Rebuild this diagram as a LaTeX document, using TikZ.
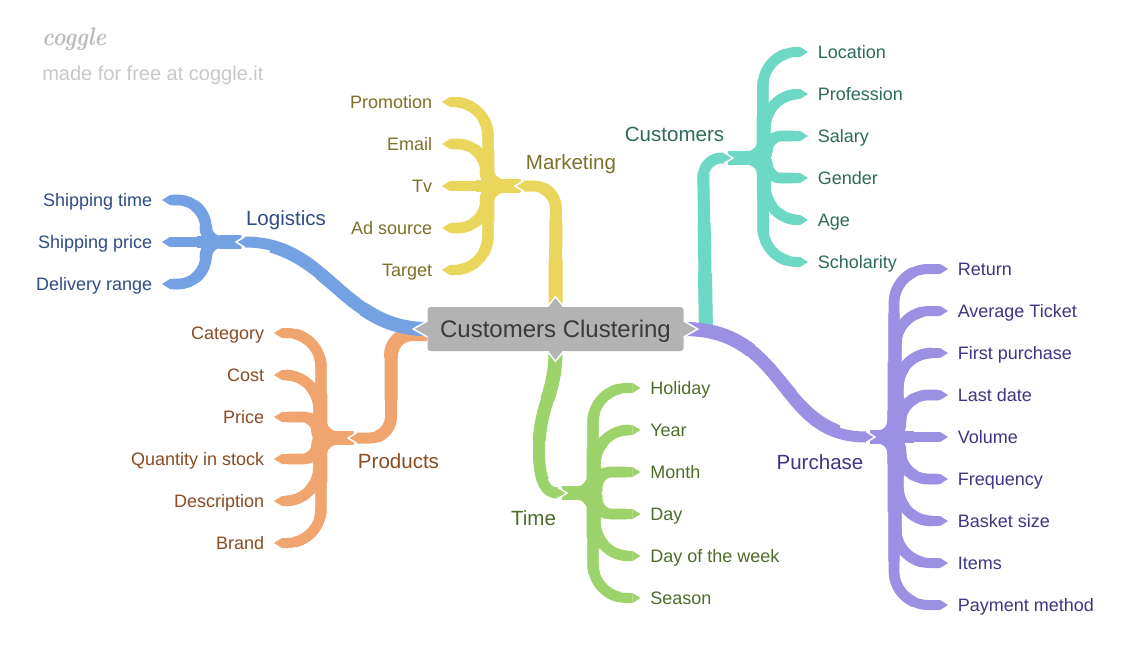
\documentclass[tikz,border=0pt]{standalone}
\usepackage{fontspec}
\setsansfont{Liberation Sans}
\usetikzlibrary{calc,arrows.meta}
\pgfdeclarelayer{bgl}
\pgfdeclarelayer{back}
\pgfsetlayers{bgl,back,main}
\definecolor{blueB}{HTML}{74A0E4}\definecolor{blueT}{HTML}{2E4C86}
\definecolor{orangeB}{HTML}{F0A46E}\definecolor{orangeT}{HTML}{8A4B22}
\definecolor{yellowB}{HTML}{EAD65C}\definecolor{yellowT}{HTML}{7B7127}
\definecolor{tealB}{HTML}{6DD8C4}\definecolor{tealT}{HTML}{2C6B5B}
\definecolor{greenB}{HTML}{9DD36B}\definecolor{greenT}{HTML}{4E6D2B}
\definecolor{purpleB}{HTML}{9C90E4}\definecolor{purpleT}{HTML}{3E3585}
\definecolor{nodeG}{HTML}{B3B3B3}\definecolor{nodeT}{HTML}{3A3A3A}
\definecolor{logoG}{HTML}{BBBBBB}\definecolor{madeG}{HTML}{C8C8C8}
\tikzset{
  kid/.style={line width=7.5pt, -{Triangle[length=6pt,width=0pt 1,line width=0pt]}},
  mainbr/.style={line width=8.25pt, -{Triangle[length=6.75pt,width=0pt 1,line width=0pt]}},
  taper/.style 2 args={line width=#1, dash pattern=on #2 off 3000pt},
  leaftext/.style={font=\sffamily\fontsize{13.5pt}{16pt}\selectfont, inner sep=0pt, text height=9.67pt, text depth=0pt},
  toptext/.style={font=\sffamily\fontsize{15.4pt}{18pt}\selectfont, inner sep=0pt, anchor=base},
  chev/.style={draw=white, line width=1.1pt, line join=miter},
  rootbox/.style={rectangle, fill=nodeG, rounded corners=2.25pt, minimum width=192pt, minimum height=33pt, inner sep=0pt, text=nodeT, font=\sffamily\fontsize{18pt}{20pt}\selectfont, text height=12.9pt, text depth=0pt}
}
% leaf: #1 colour prefix, #2 junction, #3 y, #4 name, #5 text
\newcommand\leaf[5]{%
  \pgfmathsetmacro\ldy{abs(#3-\gjy)}%
  \pgfmathsetmacro\lra{min(16,\ldy/3)}%
  \pgfmathsetmacro\lrb{min(34,\ldy*2/3)}%
  \pgfmathsetmacro\lxx{\gxo-(\gsg)*2*\ldy/42}%
  \pgfmathsetmacro\lsy{ifthenelse(#3>\gjy,1,-1)}%
  \pgfmathsetmacro\qAx{\lxx-(\gsg)*\lra}%
  \pgfmathsetmacro\qAcx{\lxx-(\gsg)*\lra*0.448}%
  \pgfmathsetmacro\qBy{\gjy+(\lsy)*\lra}%
  \pgfmathsetmacro\qBcy{\gjy+(\lsy)*\lra*0.448}%
  \pgfmathsetmacro\qCy{#3-(\lsy)*\lrb}%
  \pgfmathsetmacro\qCcy{#3-(\lsy)*\lrb*0.448}%
  \pgfmathsetmacro\qDx{\lxx+(\gsg)*\lrb}%
  \pgfmathsetmacro\qDcx{\lxx+(\gsg)*\lrb*0.448}%
  \pgfmathsetmacro\llen{(abs(\glx-\gjx)+\ldy-12)*0.75}%
  \ifnum\gsg>0
    \node[leaftext, text=#1T, anchor=west] (#4) at (\glx,#3) {#5};
    \coordinate (#4tip) at ($(#4.west)+(-9.5,0)$);
  \else
    \node[leaftext, text=#1T, anchor=east] (#4) at (\glx,#3) {#5};
    \coordinate (#4tip) at ($(#4.east)+(9.5,0)$);
  \fi
  \def\lbr##1{\ifdim\ldy pt<0.5pt \draw[##1] (#2) -- (#4tip);
    \else \draw[##1] (#2) -- (\qAx,\gjy) .. controls (\qAcx,\gjy) and (\lxx,\qBcy) .. (\lxx,\qBy)
      -- (\lxx,\qCy) .. controls (\lxx,\qCcy) and (\qDcx,#3) .. (\qDx,#3) -- (#4tip); \fi}%
  \lbr{kid, draw=#1B}%
  \pgfmathsetmacro\la{0.18*\llen}\lbr{draw=#1B, taper={10.1pt}{\la pt}}%
  \pgfmathsetmacro\la{0.38*\llen}\lbr{draw=#1B, taper={9.4pt}{\la pt}}%
  \pgfmathsetmacro\la{0.58*\llen}\lbr{draw=#1B, taper={8.6pt}{\la pt}}%
  \pgfmathsetmacro\la{0.78*\llen}\lbr{draw=#1B, taper={8.05pt}{\la pt}}%
}
% main branch: #1 colour, #2 approx length (px), #3 path
\newcommand\mainb[3]{%
  \draw[mainbr, draw=#1] #3;
  \pgfmathsetmacro\la{0.3*#2*0.75}\draw[draw=#1, taper={10.5pt}{\la pt}] #3;
  \pgfmathsetmacro\la{0.55*#2*0.75}\draw[draw=#1, taper={9.75pt}{\la pt}] #3;
  \pgfmathsetmacro\la{0.8*#2*0.75}\draw[draw=#1, taper={9pt}{\la pt}] #3;
}
\begin{document}
\begin{tikzpicture}[x=0.75pt,y=-0.75pt]
\begin{pgfonlayer}{bgl}
\fill[white] (0,0) rectangle (1140,664);
\end{pgfonlayer}
\useasboundingbox (0,0) rectangle (1140,664);

% root
\node[rootbox] (root) at (555.5,329) {Customers Clustering};
\fill[nodeG] ($(root.north)+(-8,1)$) -- ($(root.north)+(0,-10)$) -- ($(root.north)+(8,1)$) -- cycle;
\draw[chev] ($(root.north)+(-8,0)$) -- ($(root.north)+(0,-10)$) -- ($(root.north)+(8,0)$);
\fill[nodeG] ($(root.south)+(-8,-1)$) -- ($(root.south)+(0,10)$) -- ($(root.south)+(8,-1)$) -- cycle;
\draw[chev] ($(root.south)+(-8,0)$) -- ($(root.south)+(0,10)$) -- ($(root.south)+(8,0)$);
\fill[nodeG] ($(root.west)+(1,-8)$) -- ($(root.west)+(-14,0)$) -- ($(root.west)+(1,8)$) -- cycle;
\draw[chev] ($(root.west)+(0,-8)$) -- ($(root.west)+(-14,0)$) -- ($(root.west)+(0,8)$);
\fill[nodeG] ($(root.east)+(-1,-8)$) -- ($(root.east)+(14,0)$) -- ($(root.east)+(-1,8)$) -- cycle;
\draw[chev] ($(root.east)+(0,-8)$) -- ($(root.east)+(14,0)$) -- ($(root.east)+(0,8)$);

% junction coordinates
\coordinate (lT) at (236,242); \coordinate (lJ) at (241,242);
\coordinate (pdT) at (348,438); \coordinate (pdJ) at (353,438);
\coordinate (mT) at (515,186); \coordinate (mJ) at (520,186);
\coordinate (cT) at (733,158); \coordinate (cJ) at (728,158);
\coordinate (tT) at (567,493); \coordinate (tJ) at (562,493);
\coordinate (puT) at (875,437); \coordinate (puJ) at (870,437);
\coordinate (cS) at (706,333);

\begin{pgfonlayer}{back}
% Purchase
\def\gjx{870}\def\gjy{437}\def\gxo{902}\def\gsg{1}\def\glx{957.5}
\leaf{purple}{puJ}{269}{pu1}{Return}
\leaf{purple}{puJ}{311}{pu2}{Average Ticket}
\leaf{purple}{puJ}{353}{pu3}{First purchase}
\leaf{purple}{puJ}{395}{pu4}{Last date}
\leaf{purple}{puJ}{437}{pu5}{Volume}
\leaf{purple}{puJ}{479}{pu6}{Frequency}
\leaf{purple}{puJ}{521}{pu7}{Basket size}
\leaf{purple}{puJ}{563}{pu8}{Items}
\leaf{purple}{puJ}{605}{pu9}{Payment method}
% Customers
\def\gjx{728}\def\gjy{158}\def\gxo{768}\def\gsg{1}\def\glx{817.5}
\leaf{teal}{cJ}{52}{c1}{Location}
\leaf{teal}{cJ}{94}{c2}{Profession}
\leaf{teal}{cJ}{136}{c3}{Salary}
\leaf{teal}{cJ}{178}{c4}{Gender}
\leaf{teal}{cJ}{220}{c5}{Age}
\leaf{teal}{cJ}{262}{c6}{Scholarity}
% Time
\def\gjx{562}\def\gjy{493}\def\gxo{598}\def\gsg{1}\def\glx{650}
\leaf{green}{tJ}{388}{t1}{Holiday}
\leaf{green}{tJ}{430}{t2}{Year}
\leaf{green}{tJ}{472}{t3}{Month}
\leaf{green}{tJ}{514}{t4}{Day}
\leaf{green}{tJ}{556}{t5}{Day of the week}
\leaf{green}{tJ}{598}{t6}{Season}
% Marketing
\def\gjx{520}\def\gjy{186}\def\gxo{484}\def\gsg{-1}\def\glx{432.5}
\leaf{yellow}{mJ}{102}{m1}{Promotion}
\leaf{yellow}{mJ}{144}{m2}{Email}
\leaf{yellow}{mJ}{186}{m3}{Tv}
\leaf{yellow}{mJ}{228}{m4}{Ad source}
\leaf{yellow}{mJ}{270}{m5}{Target}
% Logistics
\def\gjx{241}\def\gjy{242}\def\gxo{204}\def\gsg{-1}\def\glx{152.5}
\leaf{blue}{lJ}{200}{l1}{Shipping time}
\leaf{blue}{lJ}{242}{l2}{Shipping price}
\leaf{blue}{lJ}{284}{l3}{Delivery range}
% Products
\def\gjx{353}\def\gjy{438}\def\gxo{316}\def\gsg{-1}\def\glx{264.5}
\leaf{orange}{pdJ}{333}{pd1}{Category}
\leaf{orange}{pdJ}{375}{pd2}{Cost}
\leaf{orange}{pdJ}{417}{pd3}{Price}
\leaf{orange}{pdJ}{459}{pd4}{Quantity in stock}
\leaf{orange}{pdJ}{501}{pd5}{Description}
\leaf{orange}{pdJ}{543}{pd6}{Brand}

% main branches
\mainb{orangeB}{170}{[rounded corners=16pt] ($(root.west)+(0,5)$) -- (391,334) -- (391,438) -- (pdT)}
\mainb{blueB}{225}{(root.west) .. controls (340,329) and (330,242) .. (lT)}
\mainb{yellowB}{155}{[rounded corners=17pt] (root.north) -- (556,186) -- (mT)}
\mainb{greenB}{165}{(root.south) .. controls (555.5,395) and (539,405) .. (539,450) .. controls (539,484) and (546,493) .. (tT)}
\mainb{tealB}{200}{[rounded corners=14pt] (cS) -- (703,158) -- (cT)}
\mainb{purpleB}{240}{(root.east) .. controls (790,329) and (775,437) .. (puT)}

% white chevrons at junctions
\draw[chev] ($(lT)+(9,-5.5)$) -- (lT) -- ($(lT)+(9,5.5)$);
\draw[chev] ($(pdT)+(9,-5.5)$) -- (pdT) -- ($(pdT)+(9,5.5)$);
\draw[chev] ($(mT)+(9,-5.5)$) -- (mT) -- ($(mT)+(9,5.5)$);
\draw[chev] ($(cT)+(-9,-5.5)$) -- (cT) -- ($(cT)+(-9,5.5)$);
\draw[chev] ($(tT)+(-9,-5.5)$) -- (tT) -- ($(tT)+(-9,5.5)$);
\draw[chev] ($(puT)+(-9,-5.5)$) -- (puT) -- ($(puT)+(-9,5.5)$);
\end{pgfonlayer}

% level-1 labels
\node[toptext, text=blueT] (logiL) at (286,225) {Logistics};
\node[toptext, text=orangeT] (prodL) at (398.5,468) {Products};
\node[toptext, text=yellowT] (markL) at (571,169) {Marketing};
\node[toptext, text=tealT] (custL) at (674.5,141.5) {Customers};
\node[toptext, text=greenT] (timeL) at (533.5,525) {Time};
\node[toptext, text=purpleT] (purchL) at (820,469) {Purchase};

% logo
\node[anchor=base west, inner sep=0pt, text=logoG, xscale=0.87, font=\bfseries\itshape\fontsize{19pt}{20pt}\selectfont] (logo) at (42,45) {coggle};
\node[anchor=base west, inner sep=0pt, text=madeG, font=\sffamily\fontsize{15pt}{18pt}\selectfont] (made) at (42,80) {made for free at coggle.it};
\end{tikzpicture}
\end{document}
